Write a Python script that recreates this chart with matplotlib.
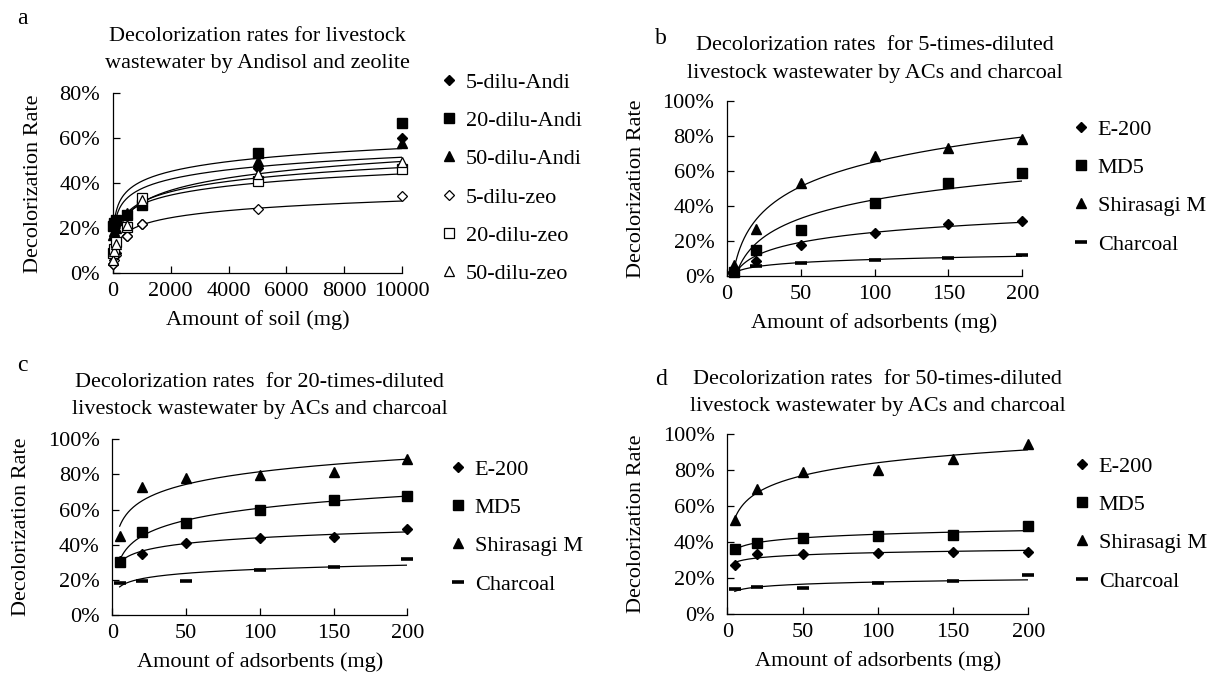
import numpy as np
import matplotlib
matplotlib.use("Agg")
import matplotlib.pyplot as plt
from matplotlib.ticker import FuncFormatter

plt.rcParams['font.family'] = ['Liberation Serif', 'DejaVu Serif']

# ---------------- data ----------------
soil_mg = [10, 50, 100, 500, 1000, 5000, 10000]
andi5 = [4, 7.5, 9, 16.5, 22, 47, 60]
andi20 = [21, 22.5, 23.5, 26, 30.5, 53.5, 67]
andi50 = [17, 19, 20, 27, 32, 50, 58]
zeo5 = [4, 6, 8, 16.5, 22, 28.5, 34.5]
zeo20 = [9, 11, 14, 20.5, 33.5, 41, 46.5]
zeo50 = [6, 10, 13, 21.5, 32.5, 44, 49.5]

ads_mg = [5, 20, 50, 100, 150, 200]
# 5-times diluted
e200_5 = [2.5, 8.8, 17.7, 24.8, 29.7, 31.6]
md5_5 = [2.5, 14.7, 26.3, 41.5, 53, 58.7]
shira_5 = [6.3, 26.9, 53, 68.6, 73, 78.1]
char_5 = [1.5, 5.9, 7.6, 9.1, 10.1, 11.8]
# 20-times diluted
e200_20 = [30.7, 34.7, 41.2, 44, 44.6, 48.8]
md5_20 = [30.4, 47, 52.6, 59.8, 65.5, 67.9]
shira_20 = [45, 72.7, 77.9, 79.8, 81.6, 88.8]
char_20 = [18.4, 19.5, 19.5, 25.6, 27.5, 31.7]
# 50-times diluted
e200_50 = [27.3, 33.2, 33.2, 34.1, 34.7, 34.7]
md5_50 = [36, 39.7, 42.4, 43.4, 43.7, 48.9]
shira_50 = [52.2, 69.6, 78.8, 80.3, 86.2, 94.7]
char_50 = [13.8, 14.8, 14.2, 17, 18.1, 21.6]

soil_labels = ['5-dilu-Andi', '20-dilu-Andi', '50-dilu-Andi', '5-dilu-zeo', '20-dilu-zeo', '50-dilu-zeo']
ads_labels = ['E-200', 'MD5', 'Shirasagi M', 'Charcoal']

titles = [
    "Decolorization rates for livestock\nwastewater by Andisol and zeolite",
    "Decolorization rates  for 5-times-diluted\nlivestock wastewater by ACs and charcoal",
    "Decolorization rates  for 20-times-diluted\nlivestock wastewater by ACs and charcoal",
    "Decolorization rates  for 50-times-diluted\nlivestock wastewater by ACs and charcoal",
]
panel_letters = ['a', 'b', 'c', 'd']

# ---------------- layout helpers ----------------
W, H = 1209, 677
fig = plt.figure(figsize=(W / 100, H / 100), dpi=100)
FS = 16


def rect(x0, x1, ytop, ybot):
    return [x0 / W, 1 - ybot / H, (x1 - x0) / W, (ybot - ytop) / H]


def fx(x):
    return x / W


def fy(y):
    return 1 - y / H


pct = FuncFormatter(lambda v, p: f"{v:.0f}%")

soil_styles = [
    dict(marker='D', ms=5, mfc='black', mec='black'),
    dict(marker='s', ms=7, mfc='black', mec='black'),
    dict(marker='^', ms=7, mfc='black', mec='black'),
    dict(marker='D', ms=5, mfc='white', mec='black', mew=0.9),
    dict(marker='s', ms=7, mfc='white', mec='black', mew=0.9),
    dict(marker='^', ms=7, mfc='white', mec='black', mew=0.9),
]
ads_styles = [
    dict(marker='D', ms=5.5, mfc='black', mec='black'),
    dict(marker='s', ms=7.5, mfc='black', mec='black'),
    dict(marker='^', ms=7.5, mfc='black', mec='black'),
    dict(marker='_', ms=8, mec='black', mew=2.6),
]


def style_axes(ax, xmax, ymax, xstep, xlabel):
    for s in ['top', 'right']:
        ax.spines[s].set_visible(False)
    for s in ['left', 'bottom']:
        ax.spines[s].set_linewidth(0.9)
    ax.set_xlim(0, xmax)
    ax.set_ylim(0, ymax)
    ax.set_xticks(np.arange(0, xmax + 1, xstep))
    ax.set_yticks(np.arange(0, ymax + 1, 20))
    ax.yaxis.set_major_formatter(pct)
    ax.tick_params(axis='both', direction='in', length=5, width=0.9, labelsize=FS)
    ax.tick_params(axis='y', pad=9)
    ax.tick_params(axis='x', pad=6.5)
    ax.set_xlabel(xlabel, fontsize=FS, labelpad=6.5)
    ax.set_ylabel('Decolorization Rate', fontsize=FS, labelpad=12)


def log_curve(ax, x, y, x0, x1):
    a, b = np.polyfit(np.log(x), y, 1)
    xx = np.linspace(x0, x1, 400)
    ax.plot(xx, a * np.log(xx) + b, color='black', lw=0.9, zorder=2)


def draw_panel(ax, x, series, labels, styles, xmax, ymax, xstep, xlabel):
    for y in series:
        log_curve(ax, x, y, x[0], x[-1])
    for y, lab, st in zip(series, labels, styles):
        ax.plot(x, y, ls='none', label=lab, clip_on=False, zorder=3, **st)
    style_axes(ax, xmax, ymax, xstep, xlabel)


# panel positions (pixels)
ax_a = fig.add_axes(rect(112.7, 402.3, 93.3, 273.3))
ax_b = fig.add_axes(rect(726.8, 1022.3, 101, 276))
ax_c = fig.add_axes(rect(112.3, 407.3, 439.3, 615))
ax_d = fig.add_axes(rect(727.3, 1028.3, 434.3, 614))

draw_panel(ax_a, soil_mg, [andi5, andi20, andi50, zeo5, zeo20, zeo50], soil_labels,
           soil_styles, 10000, 80, 2000, 'Amount of soil (mg)')
draw_panel(ax_b, ads_mg, [e200_5, md5_5, shira_5, char_5], ads_labels,
           ads_styles, 200, 100, 50, 'Amount of adsorbents (mg)')
draw_panel(ax_c, ads_mg, [e200_20, md5_20, shira_20, char_20], ads_labels,
           ads_styles, 200, 100, 50, 'Amount of adsorbents (mg)')
draw_panel(ax_d, ads_mg, [e200_50, md5_50, shira_50, char_50], ads_labels,
           ads_styles, 200, 100, 50, 'Amount of adsorbents (mg)')

# legends (anchor = upper-left corner in pixels)
legend_anchor = {ax_a: (440, 72), ax_b: (1072, 119), ax_c: (449, 459), ax_d: (1073, 456)}
for ax, (lx, ly) in legend_anchor.items():
    ax.legend(loc='upper left', bbox_to_anchor=(fx(lx), fy(ly)), bbox_transform=fig.transFigure,
              frameon=False, fontsize=FS, handlelength=0.8, handletextpad=0.36,
              labelspacing=0.8, borderpad=0, borderaxespad=0, numpoints=1)

# titles (two lines, centred over each axes)
title_pos = [(257.5, 41, 68), (874.5, 50, 78), (259.8, 387, 414), (877.8, 384, 411)]
for t, (cx, b1, b2) in zip(titles, title_pos):
    l1, l2 = t.split('\n')
    fig.text(fx(cx), fy(b1), l1, ha='center', va='baseline', fontsize=FS)
    fig.text(fx(cx), fy(b2), l2, ha='center', va='baseline', fontsize=FS)

# panel letters
letter_pos = [(17, 18), (655, 38), (17, 366), (655, 380)]
for letter, (lx, ly) in zip(panel_letters, letter_pos):
    fig.text(fx(lx), fy(ly), letter, ha='left', va='center', fontsize=FS + 1)

fig.savefig('out.png', dpi=100, facecolor='white')
